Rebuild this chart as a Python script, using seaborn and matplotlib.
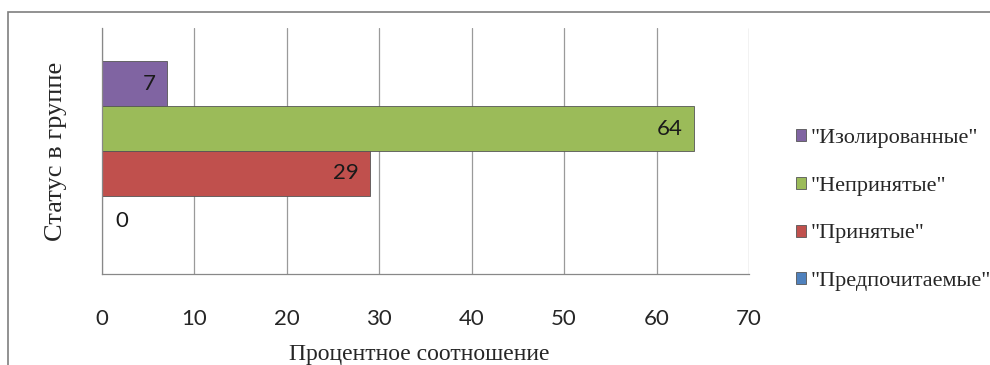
import numpy as np
import pandas as pd
import matplotlib
matplotlib.use("Agg")
import matplotlib.pyplot as plt
import seaborn as sns
from matplotlib.patches import Rectangle

# data, top to bottom as drawn
statuses = ['"Изолированные"', '"Непринятые"', '"Принятые"', '"Предпочитаемые"']
percents = [7, 64, 29, 0]
colors = ["#8064A2", "#9BBB59", "#C0504D", "#4F81BD"]
x_ticks = [0, 10, 20, 30, 40, 50, 60, 70]

df = pd.DataFrame({"group": [""] * len(statuses), "status": statuses, "pct": percents})

sns.set_style("white")
serif = ["Liberation Serif", "DejaVu Serif"]
numfont = ["Lato", "DejaVu Sans"]

fig = plt.figure(figsize=(9.9, 3.65), dpi=100)
ax = fig.add_axes([102 / 990, 1 - 274 / 365, 647 / 990, 246 / 365])

sns.barplot(
    data=df, x="pct", y="group", hue="status", hue_order=statuses,
    palette=colors, orient="h", width=0.73, ax=ax, legend=True,
    edgecolor="#555555", linewidth=0.6, saturation=1,
)

# value labels near the bar ends
for cont in ax.containers:
    for bar in cont:
        w = bar.get_width()
        yc = bar.get_y() + bar.get_height() / 2
        if w > 0:
            ax.text(w - 1.2, yc, f"{w:.0f}", ha="right", va="center",
                    fontsize=16, family=numfont, color="#1a1a1a")
        else:
            ax.text(1.5, yc + 0.01, "0", ha="left", va="center",
                    fontsize=16, family=numfont, color="#1a1a1a")

ax.set_xlim(0, 70)
ax.set_ylim(0.5, -0.5)
ax.set_xticks(x_ticks)
ax.set_xticklabels([str(t) for t in x_ticks], family=numfont, fontsize=16)
ax.set_yticks([])
ax.tick_params(axis="x", length=7, width=0.8, color="#888888", pad=18, direction="out")
ax.grid(axis="x", color="#9a9a9a", linewidth=0.9)
ax.set_axisbelow(True)
for side in ["top", "right"]:
    ax.spines[side].set_visible(False)
for side in ["left", "bottom"]:
    ax.spines[side].set_color("#888888")
    ax.spines[side].set_linewidth(0.9)

ax.set_xlabel("Процентное соотношение", family=serif, fontsize=17)
ax.set_ylabel("Статус в группе", family=serif, fontsize=19)
ax.xaxis.set_label_coords(0.49, -0.285)
ax.yaxis.set_label_coords(-0.054, 0.5)

leg = ax.legend(
    loc="center left", bbox_to_anchor=(776 / 990, 1 - 210 / 365),
    bbox_transform=fig.transFigure, frameon=False,
    prop={"family": serif, "size": 16}, handlelength=0.45, handleheight=0.45,
    handletextpad=0.2, labelspacing=1.3,
)

# outer chart border
fig.patches.append(Rectangle((8 / 990, -0.05), 1.2, 1 - 12 / 365 + 0.05,
                             transform=fig.transFigure, fill=False,
                             edgecolor="#7f7f7f", linewidth=1.2))

fig.savefig("out.png", dpi=100)
